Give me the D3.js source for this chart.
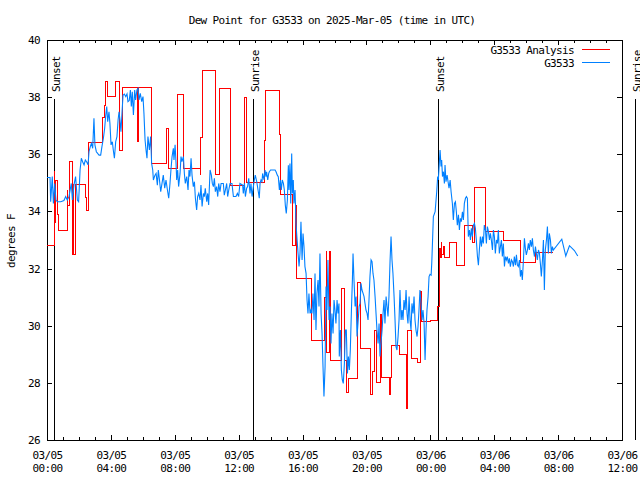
<!DOCTYPE html>
<html><head><meta charset="utf-8">
<script src="https://cdn.jsdelivr.net/npm/d3@7"></script>
<style>
body{margin:0;background:#fff}
svg{display:block}
text{font-family:"DejaVu Sans Mono",monospace;font-size:11px;letter-spacing:-0.65px;fill:#000}
</style>
</head><body>
<svg id="chart" width="640" height="480"></svg>
<script>
// ---------- data ----------
const titleText = "Dew Point for G3533 on 2025-Mar-05 (time in UTC)";
const yLabelText = "degrees F";
const seriesNames = ["G3533 Analysis", "G3533"];
const seriesColors = ["#ff0000", "#0080ff"];
const yTickValues = [26, 28, 30, 32, 34, 36, 38, 40];
const xMajorHours = [0, 4, 8, 12, 16, 20, 24, 28, 32, 36];
const xMinorHours = d3.range(0, 37, 1);
const sunLabels = ["Sunset", "Sunrise", "Sunset", "Sunrise"];
const sunHours = [0.44, 12.9, 24.48, 36.82];

// analysis (step series): [hours since 03/05 00:00 UTC, deg F]
const analysis = [
[0.00,32.8],[0.44,35.4],[0.50,33.6],[0.56,35.1],[0.63,33.9],[0.75,33.35],[1.27,34.75],[1.31,34.2],[1.41,35.74],
[1.57,32.5],[1.63,34.96],[1.69,32.5],[1.78,34.96],[2.42,34.5],[2.47,34.05],[2.57,36.4],[3.46,37.3],[3.57,37.7],
[3.66,38.54],[3.76,38.04],[4.30,38.54],[4.51,36.15],[4.70,38.34],[5.64,36.44],[5.70,38.34],[6.57,35.68],
[7.51,36.9],[7.58,35.5],[8.20,38.1],[8.53,35.5],[9.58,35.3],[9.64,36.6],[9.71,38.95],[10.52,35.3],[10.83,38.3],
[11.46,34.9],[12.34,38.0],[12.52,35.0],[13.59,36.5],[13.65,37.6],[13.71,38.25],[14.55,36.7],[14.65,34.6],
[15.40,32.8],[15.53,34.2],[15.59,31.67],[16.57,29.5],[17.40,31.0],[17.47,32.6],[17.53,29.05],[17.66,32.6],
[17.78,28.8],[18.41,31.3],[18.60,28.8],[18.77,27.65],[18.85,28.17],[19.41,31.5],[19.64,29.2],[20.23,27.58],
[20.35,28.4],[20.48,29.85],[20.66,28.0],[20.85,30.4],[20.96,28.2],[21.45,27.6],[21.51,28.2],[21.58,29.3],
[22.10,29.0],[22.48,27.1],[22.60,29.85],[22.84,28.87],[23.19,28.7],[23.36,31.2],[23.42,30.15],[24.00,30.2],
[24.42,30.67],[24.55,30.9],[24.58,32.7],[24.64,32.4],[24.67,32.9],[24.73,32.5],[24.80,32.76],[24.88,32.4],
[25.17,32.9],[25.64,32.1],[26.14,33.5],[26.61,32.9],[26.74,34.85],[27.46,33.3],[28.55,33.0],[29.62,32.2],
[30.60,32.55],[31.68,32.55]
];

// observations: [hours since 03/05 00:00 UTC, deg F]
const observed = [
[0.00,35.19],[0.19,35.19],[0.23,34.34],[0.33,35.22],[0.40,34.28],[0.48,34.98],[0.56,34.40],[0.65,34.34],[0.86,34.34],
[1.06,34.38],[1.17,34.52],[1.27,34.40],[1.38,34.52],[1.52,34.98],[1.59,34.40],[1.69,34.93],[1.79,35.22],[1.90,34.40],
[1.98,34.34],[2.07,35.45],[2.15,35.86],[2.23,35.74],[2.32,35.63],[2.40,35.80],[2.48,35.74],[2.57,35.63],[2.63,36.09],
[2.71,36.27],[2.78,36.38],[2.86,36.21],[2.94,37.26],[3.00,36.33],[3.09,36.09],[3.17,36.03],[3.26,35.97],[3.36,35.97],
[3.44,36.27],[3.53,36.56],[3.61,36.91],[3.67,37.32],[3.74,37.67],[3.80,37.14],[3.88,37.49],[3.94,37.08],[4.01,36.33],
[4.09,36.44],[4.15,36.15],[4.22,35.86],[4.30,36.44],[4.38,36.62],[4.45,37.20],[4.51,37.49],[4.57,37.20],[4.63,36.79],
[4.70,37.49],[4.76,38.07],[4.84,38.11],[4.93,38.02],[5.01,38.11],[5.07,37.84],[5.15,37.88],[5.22,38.25],[5.28,37.67],
[5.34,38.19],[5.41,37.38],[5.49,38.25],[5.55,37.90],[5.63,38.25],[5.70,38.31],[5.76,37.90],[5.84,38.13],[5.93,37.84],
[6.01,38.02],[6.07,37.43],[6.14,36.50],[6.20,36.15],[6.26,35.86],[6.32,36.62],[6.41,36.15],[6.49,36.62],[6.55,35.68],
[6.62,35.45],[6.66,35.10],[6.76,35.27],[6.83,35.33],[6.91,34.92],[6.97,35.45],[7.03,35.16],[7.12,34.69],[7.20,34.98],
[7.28,35.27],[7.37,34.81],[7.45,35.10],[7.54,34.75],[7.62,34.46],[7.70,34.98],[7.76,35.45],[7.83,35.92],[7.91,36.21],
[7.95,35.80],[8.02,36.33],[8.08,35.68],[8.12,35.10],[8.18,35.45],[8.24,34.87],[8.33,35.33],[8.39,35.92],[8.45,35.74],
[8.54,35.92],[8.60,35.33],[8.66,34.98],[8.75,35.22],[8.83,34.75],[8.89,35.45],[8.95,35.22],[9.02,35.86],[9.08,35.27],
[9.16,34.87],[9.23,35.04],[9.29,34.46],[9.37,34.05],[9.43,34.52],[9.50,34.63],[9.58,34.40],[9.64,34.92],[9.71,34.17],
[9.79,34.63],[9.85,34.52],[9.91,34.81],[10.00,34.34],[10.06,34.63],[10.12,34.23],[10.21,35.45],[10.29,35.27],[10.35,34.98],
[10.42,34.87],[10.48,35.16],[10.54,34.69],[10.62,34.87],[10.69,34.52],[10.75,34.98],[10.83,34.69],[10.90,34.98],[11.04,34.98],
[11.10,34.57],[11.17,34.75],[11.25,34.98],[11.31,34.52],[11.38,34.75],[11.46,34.98],[11.58,34.98],[11.67,34.52],[11.83,34.52],
[11.92,34.63],[12.00,34.52],[12.08,34.98],[12.25,34.92],[12.29,34.63],[12.36,34.98],[12.42,34.52],[12.50,34.81],[12.56,34.87],
[12.63,35.16],[12.71,34.63],[12.77,34.98],[12.84,34.52],[12.92,34.87],[12.98,35.10],[13.04,35.27],[13.13,35.04],[13.23,34.69],
[13.29,34.46],[13.34,34.98],[13.40,35.10],[13.46,35.04],[13.50,35.33],[13.59,35.10],[13.65,35.45],[13.71,35.22],[13.75,35.39],
[13.82,35.10],[13.88,35.33],[13.92,35.39],[14.00,35.45],[14.28,35.45],[14.34,35.39],[14.42,35.27],[14.48,35.22],[14.55,34.75],
[14.61,35.10],[14.67,34.75],[14.73,35.10],[14.80,34.98],[14.86,34.75],[14.92,34.22],[14.98,33.93],[15.05,34.40],[15.11,35.62],
[15.15,34.75],[15.21,35.68],[15.26,34.28],[15.32,36.03],[15.36,34.63],[15.42,35.10],[15.46,34.28],[15.53,34.75],[15.59,33.58],
[15.65,33.06],[15.72,32.53],[15.78,32.07],[15.84,32.53],[15.90,33.64],[15.97,32.30],[16.03,33.23],[16.09,32.77],[16.15,32.07],
[16.22,31.83],[16.28,30.90],[16.34,30.43],[16.40,31.13],[16.47,30.43],[16.53,30.55],[16.59,30.43],[16.65,31.13],[16.72,30.20],
[16.78,31.83],[16.84,29.85],[16.90,31.13],[16.97,31.60],[17.03,30.67],[17.09,32.53],[17.16,30.43],[17.22,29.73],[17.28,28.57],
[17.34,27.52],[17.41,28.57],[17.47,31.37],[17.53,30.55],[17.59,32.30],[17.66,30.20],[17.72,30.67],[17.78,29.38],[17.84,30.43],
[17.91,29.73],[17.97,30.90],[18.03,30.55],[18.09,30.08],[18.16,30.90],[18.22,30.43],[18.28,30.78],[18.30,28.92],[18.37,29.85],
[18.43,28.45],[18.49,28.10],[18.55,27.98],[18.62,28.68],[18.68,29.85],[18.74,29.85],[18.81,28.33],[18.87,28.92],[18.93,28.45],
[18.99,29.15],[19.06,30.55],[19.12,31.60],[19.16,32.53],[19.22,31.60],[19.29,30.67],[19.35,31.02],[19.41,29.62],[19.47,30.08],
[19.54,30.67],[19.60,30.78],[19.66,31.48],[19.72,31.25],[19.79,31.13],[19.85,31.02],[19.91,30.78],[19.97,30.55],[20.04,30.43],
[20.10,30.20],[20.16,30.90],[20.22,31.72],[20.29,32.30],[20.35,32.24],[20.41,31.83],[20.47,31.60],[20.54,31.02],[20.60,30.43],
[20.66,29.85],[20.73,29.38],[20.79,30.08],[20.85,28.92],[20.91,29.38],[20.98,29.85],[21.04,30.43],[21.10,30.90],[21.16,30.08],
[21.23,31.02],[21.29,30.67],[21.35,30.32],[21.41,31.02],[21.48,32.30],[21.54,33.12],[21.60,32.30],[21.66,31.83],[21.73,31.02],
[21.79,30.20],[21.85,29.27],[21.91,29.15],[21.98,29.62],[22.04,30.20],[22.10,31.25],[22.17,30.20],[22.23,30.55],[22.29,30.20],
[22.35,30.90],[22.42,30.55],[22.48,31.25],[22.54,30.43],[22.60,30.08],[22.67,31.02],[22.73,30.20],[22.79,29.85],[22.85,30.78],
[22.92,30.43],[22.98,31.02],[23.04,30.20],[23.10,29.85],[23.17,29.62],[23.23,29.97],[23.29,30.55],[23.35,31.25],[23.42,30.78],
[23.48,30.20],[23.54,30.55],[23.61,30.08],[23.67,28.80],[23.73,29.85],[23.79,30.55],[23.86,31.02],[23.92,31.72],[23.98,31.80],
[24.05,31.77],[24.09,32.20],[24.14,33.00],[24.19,33.82],[24.30,33.99],[24.40,34.69],[24.46,35.22],[24.50,35.10],[24.55,35.57],
[24.61,36.15],[24.67,35.57],[24.71,35.80],[24.76,35.22],[24.82,35.39],[24.88,34.98],[24.92,35.62],[24.98,35.04],[25.05,35.27],
[25.11,35.04],[25.17,34.81],[25.24,35.10],[25.30,34.69],[25.38,34.28],[25.44,33.70],[25.51,34.28],[25.57,34.34],[25.63,33.99],
[25.69,33.52],[25.76,33.88],[25.82,33.35],[25.88,33.76],[25.94,33.64],[26.01,33.99],[26.07,33.70],[26.13,34.28],[26.20,34.46],
[26.26,34.52],[26.32,34.46],[26.38,33.12],[26.45,33.35],[26.51,33.00],[26.57,33.41],[26.63,33.12],[26.70,33.52],[26.76,33.58],
[26.82,33.41],[26.88,33.00],[26.95,32.42],[27.01,32.12],[27.07,32.65],[27.13,33.12],[27.20,32.77],[27.26,33.12],[27.32,32.88],
[27.38,33.52],[27.45,33.35],[27.51,32.88],[27.57,33.47],[27.64,33.29],[27.70,33.00],[27.76,33.23],[27.82,33.00],[27.89,32.65],
[27.95,33.35],[28.01,33.12],[28.07,32.53],[28.14,33.00],[28.20,32.88],[28.26,33.35],[28.32,32.53],[28.39,32.77],[28.45,33.00],
[28.51,32.42],[28.57,32.88],[28.64,32.07],[28.70,32.42],[28.76,32.30],[28.82,32.42],[28.89,32.18],[28.95,32.36],[29.01,32.07],
[29.08,32.30],[29.14,32.24],[29.20,32.07],[29.26,32.42],[29.33,32.12],[29.39,32.48],[29.45,32.12],[29.51,32.07],[29.58,32.30],
[29.64,31.72],[29.70,31.95],[29.76,31.60],[29.83,32.30],[29.89,33.06],[29.95,32.71],[30.01,32.48],[30.08,32.65],[30.14,32.88],
[30.20,32.65],[30.26,33.00],[30.33,32.77],[30.39,33.06],[30.45,32.65],[30.52,32.42],[30.58,32.77],[30.64,32.53],[30.70,32.30],
[30.77,32.65],[30.83,32.53],[30.89,32.18],[30.95,31.72],[31.02,32.30],[31.08,33.00],[31.14,31.25],[31.20,32.65],[31.27,33.00],
[31.33,33.47],[31.39,32.53],[31.45,33.23],[31.52,33.00],[31.58,32.53],[31.64,32.77],[31.70,32.65],[32.23,33.03],[32.48,32.44],
[32.71,32.80],[33.02,32.63],[33.23,32.44]
];

// ---------- chart ----------
const W = 640, H = 480;
const L = 47, R = 622, T = 40, B = 440;
const t0 = Date.UTC(2025, 2, 5, 0, 0);
const toDate = h => new Date(t0 + h * 3600e3);

const svg = d3.select("#chart");
svg.append("rect").attr("width", W).attr("height", H).attr("fill", "#fff");

const x = d3.scaleUtc().domain([toDate(0), toDate(36)]).range([L, R]);
const y = d3.scaleLinear().domain([26, 40]).range([B, T]);

const fmtDay = d3.utcFormat("%m/%d");
const fmtTime = d3.utcFormat("%H:%M");

// minor x ticks (bottom and top)
svg.append("g").attr("transform", `translate(0,${B})`)
  .call(d3.axisBottom(x).tickValues(xMinorHours.map(toDate)).tickSizeInner(-3).tickSizeOuter(0).tickFormat(""))
  .call(g => g.select(".domain").remove());
svg.append("g").attr("transform", `translate(0,${T})`)
  .call(d3.axisTop(x).tickValues(xMinorHours.map(toDate)).tickSizeInner(-3).tickSizeOuter(0).tickFormat(""))
  .call(g => g.select(".domain").remove());

// major x ticks
const gx = svg.append("g").attr("transform", `translate(0,${B})`)
  .call(d3.axisBottom(x).tickValues(xMajorHours.map(toDate)).tickSizeInner(-5).tickSizeOuter(0).tickPadding(11))
  .call(g => g.select(".domain").remove());
gx.selectAll(".tick text").each(function(d) {
  const t = d3.select(this);
  t.text(null).attr("dy", null);
  t.append("tspan").attr("x", 0).attr("dy", "0.71em").text(fmtDay(d));
  t.append("tspan").attr("x", 0).attr("dy", 13).text(fmtTime(d));
});
svg.append("g").attr("transform", `translate(0,${T})`)
  .call(d3.axisTop(x).tickValues(xMajorHours.map(toDate)).tickSizeInner(-5).tickSizeOuter(0).tickFormat(""))
  .call(g => g.select(".domain").remove());

// y ticks
svg.append("g").attr("transform", `translate(${L},0)`)
  .call(d3.axisLeft(y).tickValues(yTickValues).tickSizeInner(-5).tickSizeOuter(0).tickPadding(7).tickFormat(d3.format("d")))
  .call(g => g.select(".domain").remove());
svg.append("g").attr("transform", `translate(${R},0)`)
  .call(d3.axisRight(y).tickValues(yTickValues).tickSizeInner(-5).tickSizeOuter(0).tickFormat(""))
  .call(g => g.select(".domain").remove());

svg.selectAll(".tick line").attr("stroke", "#000").attr("shape-rendering", "crispEdges");
svg.selectAll(".tick text").attr("fill", "#000").style("font-size", "11px").style("font-family", "DejaVu Sans Mono, monospace");

// frame
svg.append("rect").attr("x", L).attr("y", T).attr("width", R - L).attr("height", B - T)
  .attr("fill", "none").attr("stroke", "#000").attr("shape-rendering", "crispEdges");

// sunrise / sunset markers
sunHours.forEach((h, i) => {
  const sx = Math.round(x(toDate(h))) + 0.5;
  svg.append("line").attr("x1", sx).attr("x2", sx).attr("y1", 99).attr("y2", B)
    .attr("stroke", "#000").attr("stroke-width", 1).attr("shape-rendering", "crispEdges");
  svg.append("text").attr("transform", `translate(${sx + 5},92) rotate(-90)`)
    .attr("text-anchor", "start").text(sunLabels[i]);
});

// series
const lineStep = d3.line().x(d => x(toDate(d[0]))).y(d => y(d[1])).curve(d3.curveStepAfter);
const lineLin = d3.line().x(d => x(toDate(d[0]))).y(d => y(d[1]));

svg.append("path").datum(analysis).attr("d", lineStep)
  .attr("fill", "none").attr("stroke", seriesColors[0]).attr("stroke-width", 1)
  .attr("shape-rendering", "crispEdges");
svg.append("path").datum(observed).attr("d", lineLin)
  .attr("fill", "none").attr("stroke", seriesColors[1]).attr("stroke-width", 1.1);

// legend
seriesNames.forEach((name, i) => {
  const ly = 49.5 + i * 13;
  svg.append("text").attr("x", 574).attr("y", ly + 4).attr("text-anchor", "end").text(name);
  svg.append("line").attr("x1", 582).attr("x2", 610).attr("y1", ly).attr("y2", ly)
    .attr("stroke", seriesColors[i]).attr("stroke-width", 1).attr("shape-rendering", "crispEdges");
});

// title & axis label
svg.append("text").attr("x", 332).attr("y", 24).attr("text-anchor", "middle").text(titleText);
svg.append("text").attr("transform", "translate(15,241) rotate(-90)").attr("text-anchor", "middle").text(yLabelText);
</script>
</body></html>
